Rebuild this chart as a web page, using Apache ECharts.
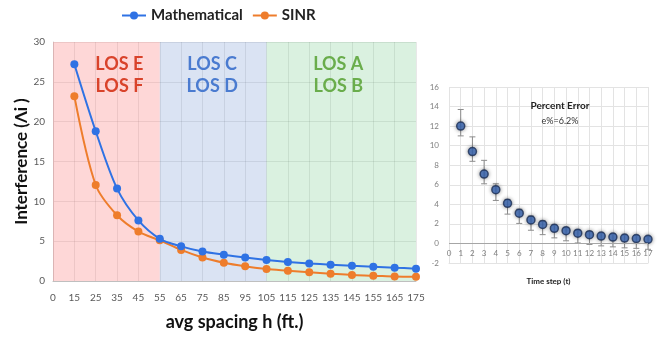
<!DOCTYPE html>
<html>
<head>
<meta charset="utf-8">
<script src="https://cdn.jsdelivr.net/npm/echarts@6/dist/echarts.min.js"></script>
<style>
  html, body { margin: 0; padding: 0; background: #fff; }
  #chart { width: 662px; height: 337px; }
</style>
</head>
<body>
<div id="chart"></div>
<script>
// left chart: interference vs spacing
const spacing = ['0', '15', '25', '35', '45', '55', '65', '75', '85', '95', '105', '115', '125', '135', '145', '155', '165', '175'];
const mathematical = [null, 27.2, 18.8, 11.6, 7.6, 5.3, 4.35, 3.7, 3.3, 2.95, 2.65, 2.4, 2.2, 2.05, 1.9, 1.8, 1.67, 1.55];
const sinr = [null, 23.2, 12.05, 8.25, 6.2, 5.1, 3.9, 2.95, 2.3, 1.85, 1.5, 1.3, 1.1, 0.92, 0.75, 0.67, 0.56, 0.52];

// right chart: percent error per time step
const timeStep = [1, 2, 3, 4, 5, 6, 7, 8, 9, 10, 11, 12, 13, 14, 15, 16, 17];
const pctError = [12.0, 9.4, 7.1, 5.5, 4.1, 3.1, 2.4, 1.95, 1.55, 1.3, 1.05, 0.9, 0.75, 0.65, 0.55, 0.5, 0.42];
const errLow = [11.0, 8.4, 6.1, 4.4, 3.0, 2.05, 1.35, 0.9, 0.57, 0.27, 0.05, -0.1, -0.25, -0.35, -0.45, -0.5, -0.6];
const errHigh = [13.7, 10.9, 8.5, 6.1, 4.5, 3.5, 2.8, 2.3, 1.9, 1.6, 1.35, 1.2, 1.05, 0.95, 0.85, 0.8, 0.7];

const BLUE = '#2f72e4';
const ORANGE = '#ee7d2c';
const TICK_COLOR = '#595959';

var chart = echarts.init(document.getElementById('chart'));

option = {
  animation: false,
  textStyle: { fontFamily: 'Lato' },
  legend: {
    top: 3,
    left: 116,
    itemWidth: 24,
    itemHeight: 10,
    itemGap: 9,
    textStyle: { fontSize: 15, fontWeight: 'bold', color: '#222', fontFamily: 'Lato' },
    data: ['Mathematical', 'SINR']
  },
  title: {
    text: 'Percent Error',
    subtext: 'e%=6.2%',
    left: 555,
    top: 96,
    textAlign: 'center',
    itemGap: 6,
    textStyle: { fontSize: 10, fontWeight: 'bold', color: '#222', fontFamily: 'Lato' },
    subtextStyle: { fontSize: 9, color: '#333', fontFamily: 'Lato' }
  },
  grid: [
    { left: 53, top: 42, width: 363, height: 239, outerBoundsMode: 'none', containLabel: false },
    { left: 449, top: 87, width: 199, height: 176, outerBoundsMode: 'none', containLabel: false }
  ],
  xAxis: [
    {
      type: 'category',
      gridIndex: 0,
      data: spacing,
      boundaryGap: false,
      axisTick: { show: false },
      axisLine: { lineStyle: { color: '#bfbfbf' } },
      axisLabel: { interval: 0, color: TICK_COLOR, fontSize: 10, margin: 12, fontFamily: 'Lato' },
      splitLine: { show: true, interval: 0, lineStyle: { color: 'rgba(0,0,0,0.09)' } },
      name: 'avg spacing h (ft.)',
      nameLocation: 'middle',
      nameGap: 32,
      nameTextStyle: { fontSize: 18, fontWeight: 'bold', color: '#111', fontFamily: 'Lato' }
    },
    {
      type: 'value',
      gridIndex: 1,
      min: 0,
      max: 17,
      interval: 1,
      axisTick: { show: false },
      axisLine: { onZero: false, lineStyle: { color: '#e3e3e3' } },
      axisLabel: { color: '#7f7f7f', fontSize: 8, margin: -14, fontFamily: 'Lato' },
      splitLine: { show: true, lineStyle: { color: '#e3e3e3' } },
      name: 'Time step (t)',
      nameLocation: 'middle',
      nameGap: 14,
      nameTextStyle: { fontSize: 8, fontWeight: 'bold', color: '#222', fontFamily: 'Lato' }
    }
  ],
  yAxis: [
    {
      type: 'value',
      gridIndex: 0,
      min: 0,
      max: 30,
      interval: 5,
      axisLine: { show: true, lineStyle: { color: '#d0d0d0' } },
      axisTick: { show: false },
      axisLabel: { color: TICK_COLOR, fontSize: 10, margin: 8, fontFamily: 'Lato' },
      splitLine: { lineStyle: { color: 'rgba(0,0,0,0.09)' } },
      name: 'Interference (\u039bi )',
      nameLocation: 'middle',
      nameMoveOverlap: false,
      nameGap: 23,
      nameTextStyle: { fontSize: 17, fontWeight: 'bold', color: '#111', fontFamily: 'Lato' }
    },
    {
      type: 'value',
      gridIndex: 1,
      min: -2,
      max: 16,
      interval: 2,
      axisLine: { show: false },
      axisTick: { show: false },
      axisLabel: { color: '#7f7f7f', fontSize: 8, margin: 10, fontFamily: 'Lato' },
      splitLine: { lineStyle: { color: '#e3e3e3' } }
    }
  ],
  series: [
    {
      name: 'Mathematical',
      type: 'line',
      xAxisIndex: 0,
      yAxisIndex: 0,
      data: mathematical,
      smooth: 0.3,
      symbol: 'circle',
      symbolSize: 8,
      itemStyle: { color: BLUE },
      lineStyle: { width: 2, color: BLUE },
      z: 5,
      markArea: {
        silent: true,
        label: {
          position: 'insideTop',
          fontSize: 18,
          fontWeight: 'bold',
          lineHeight: 22,
          fontFamily: 'Lato'
        },
        data: [
          [{ xAxis: 0, itemStyle: { color: 'rgba(250,100,100,0.26)' },
             label: { formatter: 'LOS E\nLOS F', color: '#d9432b', offset: [13, 6] } },
           { xAxis: 4.65 }],
          [{ xAxis: 4.65, itemStyle: { color: 'rgba(68,114,196,0.2)' },
             label: { formatter: 'LOS C\nLOS D', color: '#4a7bd0', offset: [-1, 6] } },
           { xAxis: 9.97 }],
          [{ xAxis: 9.97, itemStyle: { color: 'rgba(70,185,100,0.2)' },
             label: { formatter: 'LOS A\nLOS B', color: '#6aad4c', offset: [-3, 6] } },
           { xAxis: 17 }]
        ]
      }
    },
    {
      name: 'SINR',
      type: 'line',
      xAxisIndex: 0,
      yAxisIndex: 0,
      data: sinr,
      smooth: 0.3,
      symbol: 'circle',
      symbolSize: 8,
      itemStyle: { color: ORANGE },
      lineStyle: { width: 2, color: ORANGE },
      z: 4
    },
    {
      name: 'error bars',
      type: 'custom',
      xAxisIndex: 1,
      yAxisIndex: 1,
      data: timeStep.map((t, i) => [t, errLow[i], errHigh[i]]),
      renderItem: function (params, api) {
        var lo = api.coord([api.value(0), api.value(1)]);
        var hi = api.coord([api.value(0), api.value(2)]);
        var cap = 3;
        var st = { stroke: '#8c8c8c', lineWidth: 1 };
        return {
          type: 'group',
          children: [
            { type: 'line', shape: { x1: lo[0], y1: lo[1], x2: hi[0], y2: hi[1] }, style: st },
            { type: 'line', shape: { x1: lo[0] - cap, y1: lo[1], x2: lo[0] + cap, y2: lo[1] }, style: st },
            { type: 'line', shape: { x1: hi[0] - cap, y1: hi[1], x2: hi[0] + cap, y2: hi[1] }, style: st }
          ]
        };
      },
      z: 3
    },
    {
      name: 'Percent Error',
      type: 'scatter',
      xAxisIndex: 1,
      yAxisIndex: 1,
      data: timeStep.map((t, i) => [t, pctError[i]]),
      symbol: 'circle',
      symbolSize: 8,
      itemStyle: {
        color: '#3d6fc4',
        borderColor: '#1d2f55',
        borderWidth: 1.5,
        shadowBlur: 4,
        shadowColor: 'rgba(0,0,0,0.45)'
      },
      markLine: {
        silent: true,
        symbol: 'none',
        label: { show: false },
        lineStyle: { color: '#a6a6a6', type: 'solid', width: 1 },
        data: [{ yAxis: 0 }]
      },
      z: 4
    }
  ]
};

chart.setOption(option);
</script>
</body>
</html>
